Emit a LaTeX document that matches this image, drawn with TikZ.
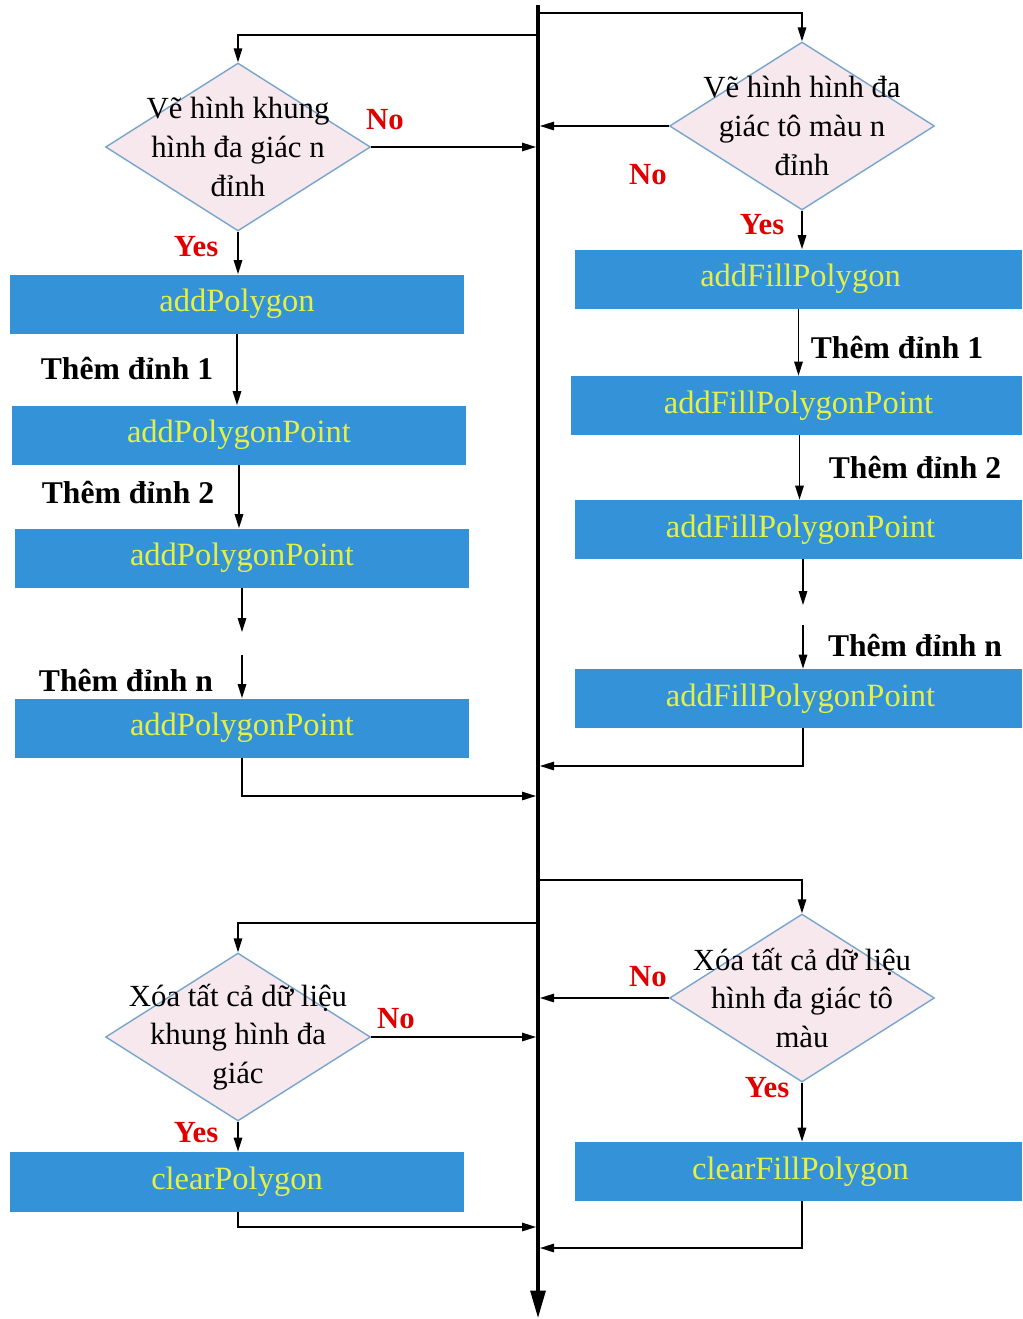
\documentclass[tikz,border=0pt]{standalone}
\usepackage{fontspec}
\setmainfont{Liberation Serif}
\usetikzlibrary{shapes.geometric,arrows.meta}
\definecolor{boxblue}{RGB}{52,146,216}
\definecolor{boxtext}{RGB}{228,240,70}
\definecolor{dfill}{RGB}{246,232,236}
\definecolor{dborder}{RGB}{120,165,205}
\definecolor{labred}{RGB}{225,0,0}
\begin{document}
\begin{tikzpicture}[x=0.02cm,y=-0.02cm,
  decision/.style={diamond, draw=dborder, fill=dfill, line width=0.8pt,
    inner sep=0pt, minimum width=5.3cm, minimum height=3.36cm},
  dtext/.style={align=center, text=black, font=\fontsize{17.5}{22}\selectfont},
  procbox/.style={rectangle, fill=boxblue, inner sep=0pt, minimum height=1.18cm,
    text=boxtext, font=\fontsize{18.5}{22}\selectfont},
  leftbox/.style={procbox, minimum width=9.08cm},
  rightbox/.style={procbox, minimum width=8.94cm},
  conn/.style={draw=black, line width=0.8pt, -{Triangle[length=0.28cm,width=0.17cm]}},
  steplabel/.style={font=\bfseries\fontsize{18}{22}\selectfont},
  yn/.style={text=labred, font=\bfseries\fontsize{17.5}{21}\selectfont}]

\useasboundingbox (0,0) rectangle (1022,1319);

% main bus
\coordinate (mtop) at (538,5);
\coordinate (mbot) at (538,1318);
\draw[line width=1.8pt, -{Triangle[length=0.55cm,width=0.3cm]}] (mtop) -- (mbot);

% junctions on the bus
\coordinate (j1) at (538,35);
\coordinate (j2) at (538,13);
\coordinate (j3) at (536,147);
\coordinate (j4) at (540,126);
\coordinate (j5) at (536,796);
\coordinate (j6) at (540,766);
\coordinate (j7) at (538,880);
\coordinate (j8) at (538,923);
\coordinate (j9) at (540,998);
\coordinate (j10) at (536,1037);
\coordinate (j11) at (536,1227);
\coordinate (j12) at (540,1248);

% ---------- outline polygon branch ----------
\node[decision] (d1) at (238,147) {};
\node[dtext] (d1t) at (238,147) {Vẽ hình khung\\hình đa giác n\\đỉnh};
\node[leftbox] (b1) at (237,304) {\raisebox{-2pt}{addPolygon}};
\node[leftbox] (b2) at (239,435) {\raisebox{-2pt}{addPolygonPoint}};
\node[leftbox] (b3) at (242,558) {\raisebox{-2pt}{addPolygonPoint}};
\node[leftbox] (b4) at (242,728) {\raisebox{-2pt}{addPolygonPoint}};
\coordinate (g1) at (242,632);
\coordinate (g2) at (242,655);

\draw[conn] (j1) -| (d1.north);
\draw[conn] (d1.east) -- (j3);
\draw[conn] (d1.south) -- (d1.south |- b1.north);
\draw[conn] (b1.south) -- (b1.south |- b2.north);
\draw[conn] (b2.south) -- (b2.south |- b3.north);
\draw[conn] (b3.south) -- (g1);
\draw[conn] (g2) -- (b4.north);
\draw[conn] (b4.south) |- (j5);

\node[yn] (no1) at (385,120) {No};
\node[yn] (yes1) at (196,247) {Yes};
\node[steplabel] (s1) at (127,368) {Thêm đỉnh 1};
\node[steplabel] (s2) at (128,492) {Thêm đỉnh 2};
\node[steplabel] (s3) at (126,680) {Thêm đỉnh n};

% ---------- filled polygon branch ----------
\node[decision] (d2) at (802,126) {};
\node[dtext] (d2t) at (802,126) {Vẽ hình hình đa\\giác tô màu n\\đỉnh};
\node[rightbox] (r1) at (798.5,279) {\raisebox{-2pt}{\hspace{0.08cm}addFillPolygon}};
\node[rightbox, minimum width=9.02cm] (r2) at (796.5,405.5) {\raisebox{-2pt}{\hspace{0.08cm}addFillPolygonPoint}};
\node[rightbox] (r3) at (798.5,529.5) {\raisebox{-2pt}{\hspace{0.08cm}addFillPolygonPoint}};
\node[rightbox] (r4) at (798.5,698.5) {\raisebox{-2pt}{\hspace{0.08cm}addFillPolygonPoint}};
\coordinate (g3) at (803,605);
\coordinate (g4) at (803,625);

\draw[conn] (j2) -| (d2.north);
\draw[conn] (d2.west) -- (j4);
\draw[conn] (d2.south) -- (d2.south |- r1.north);
\draw[conn] (r1.south) -- (r1.south |- r2.north);
\draw[conn] ([xshift=0.06cm]r2.south) -- ([xshift=0.06cm]r2.south |- r3.north);
\draw[conn] (g3 |- r3.south) -- (g3);
\draw[conn] (g4) -- (g4 |- r4.north);
\draw[conn] (g4 |- r4.south) |- (j6);

\node[yn] (no2) at (648,175) {No};
\node[yn] (yes2) at (762,225) {Yes};
\node[steplabel] (s4) at (897,347) {Thêm đỉnh 1};
\node[steplabel] (s5) at (915,467) {Thêm đỉnh 2};
\node[steplabel] (s6) at (915,645) {Thêm đỉnh n};

% ---------- clear filled polygons ----------
\node[decision] (d3) at (802,998) {};
\node[dtext] (d3t) at (802,998) {Xóa tất cả dữ liệu\\hình đa giác tô\\màu};
\node[rightbox] (r5) at (798.5,1171.5) {\raisebox{-2pt}{\hspace{0.08cm}clearFillPolygon}};

\draw[conn] (j7) -| (d3.north);
\draw[conn] (d3.west) -- (j9);
\draw[conn] (d3.south) -- (d3.south |- r5.north);
\draw[conn] (d3.south |- r5.south) |- (j12);

\node[yn] (no3) at (648,977) {No};
\node[yn] (yes3) at (767,1088) {Yes};

% ---------- clear outline polygons ----------
\node[decision] (d4) at (238,1037) {};
\node[dtext] (d4t) at (238,1037) {Xóa tất cả dữ liệu\\khung hình đa\\giác};
\node[leftbox, minimum height=1.2cm] (b5) at (237,1182) {\raisebox{-2pt}{clearPolygon}};

\draw[conn] (j8) -| (d4.north);
\draw[conn] (d4.east) -- (j10);
\draw[conn] (d4.south) -- (d4.south |- b5.north);
\draw[conn] (d4.south |- b5.south) |- (j11);

\node[yn] (no4) at (396,1019) {No};
\node[yn] (yes4) at (196,1133) {Yes};
\end{tikzpicture}
\end{document}
